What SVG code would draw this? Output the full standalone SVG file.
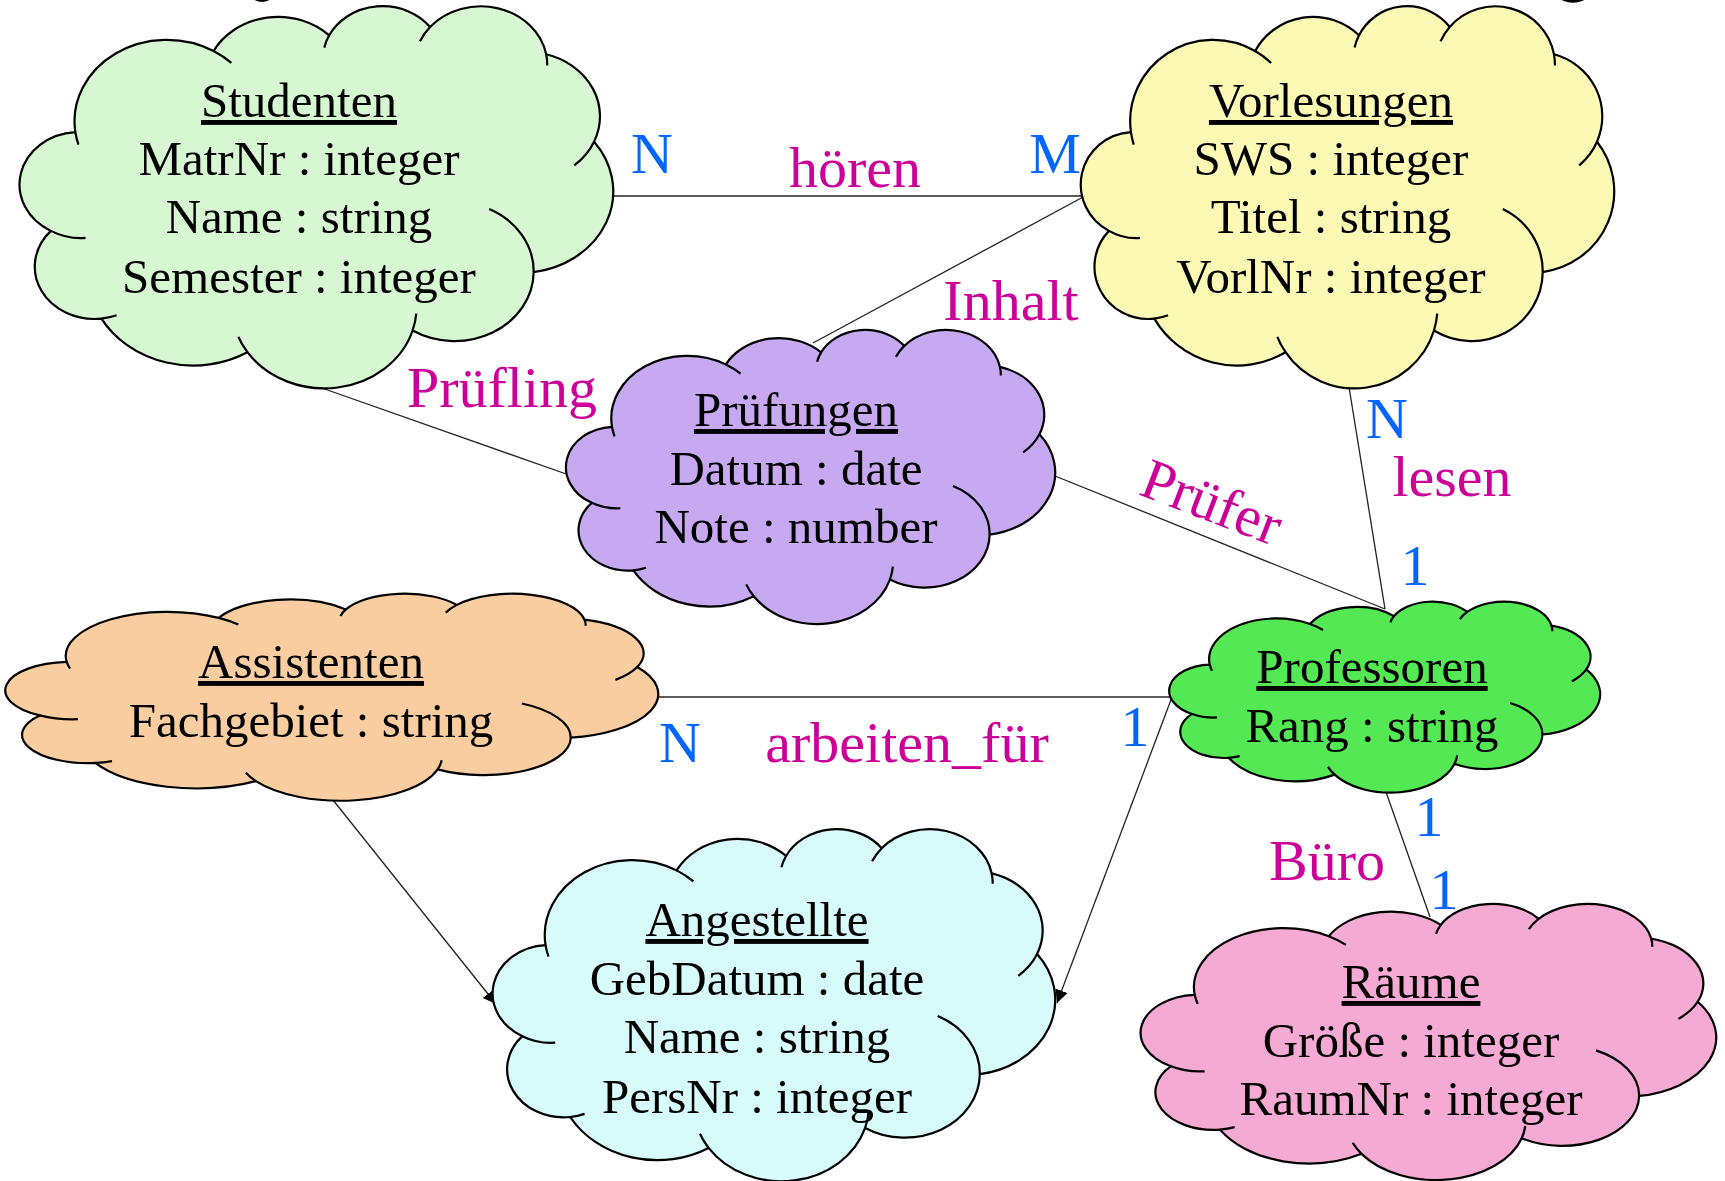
<svg xmlns="http://www.w3.org/2000/svg" xmlns:xlink="http://www.w3.org/1999/xlink" width="1725" height="1181" viewBox="0 0 1725 1181">
<style>
.t{font-family:"Liberation Serif","Times New Roman",serif;font-size:49px;fill:#000;text-anchor:middle}
.h{text-decoration:underline}
.lbl{font-family:"Liberation Serif","Times New Roman",serif;font-size:58px;text-anchor:middle}
.rel{fill:#CC0099}
.card{fill:#0066FF}
.conn{stroke:#222;stroke-width:1.3;fill:none}
</style>
<defs>
<g id="cloud">
<path stroke="#000" stroke-width="2.2" vector-effect="non-scaling-stroke" stroke-linejoin="round" d="M9.028,33.264 A15.632,21.273 0 0 1 32.417,12.039 A12.345,16.822 0 0 1 51.979,7.940 A10.104,13.762 0 0 1 69.056,5.738 A11.243,15.266 0 0 1 88.697,12.905 A12.345,16.836 0 0 1 96.799,35.785 A15.683,21.343 0 0 1 86.579,69.910 A13.391,18.211 0 0 1 66.095,85.211 A15.630,21.331 0 0 1 38.144,90.887 A17.870,24.405 0 0 1 13.433,82.102 A10.093,13.699 0 0 1 4.889,59.132 A10.058,13.762 0 0 1 9.028,33.264 Z"/>
<path fill="none" stroke="#000" stroke-width="2.2" vector-effect="non-scaling-stroke" d="M10.752,60.977 A10.058,13.762 0 0 1 4.889,59.132 M16.000,81.218 A10.093,13.699 0 0 1 13.433,82.102 M38.144,90.887 A15.630,21.331 0 0 1 36.597,86.859 M66.713,80.792 A15.630,21.331 0 0 1 66.095,85.211 M79.053,53.394 A13.391,18.211 0 0 1 86.579,69.910 M96.799,35.785 A12.345,16.836 0 0 1 93.449,41.979 M88.697,12.905 A11.243,15.266 0 0 1 88.875,15.831 M67.338,9.470 A11.243,15.266 0 0 1 69.056,5.738 M51.148,11.155 A10.104,13.762 0 0 1 51.979,7.940 M32.417,12.039 A15.632,21.273 0 0 1 35.428,15.164 M9.553,36.549 A15.632,21.273 0 0 1 9.028,33.264"/>
</g>
<marker id="arrow" markerUnits="userSpaceOnUse" markerWidth="14" markerHeight="14" refX="13" refY="6.5" orient="auto">
<path d="M0,0 L13,6.5 L0,13 Z" fill="#000"/>
</marker>
</defs>
<rect width="1725" height="1181" fill="#fff"/>
<g id="edge-fragments" fill="#000">
<ellipse cx="262" cy="-3" rx="9" ry="5"/>
<ellipse cx="1573" cy="-3" rx="13" ry="5.7"/>
</g>
<g id="connectors">
<line class="conn" x1="613" y1="196" x2="1085" y2="196"/>
<line class="conn" x1="1085" y1="196" x2="813" y2="343"/>
<line class="conn" x1="319" y1="387" x2="569" y2="475"/>
<line class="conn" x1="1055" y1="476" x2="1385" y2="609"/>
<line class="conn" x1="1349" y1="387" x2="1385" y2="609"/>
<line class="conn" x1="658" y1="697" x2="1172" y2="697"/>
<line class="conn" x1="333" y1="800" x2="496" y2="1004" marker-end="url(#arrow)"/>
<line class="conn" x1="1172" y1="697" x2="1057" y2="1003" marker-end="url(#arrow)"/>
<line class="conn" x1="1386" y1="792" x2="1430" y2="917"/>
</g>
<g id="node-studenten">
<use href="#cloud" xlink:href="#cloud" fill="#D6F7D2" transform="translate(22,5) scale(5.91,3.82)"/>
<text class="t h" x="299" y="117">Studenten</text>
<text class="t" x="299" y="175">MatrNr : integer</text>
<text class="t" x="299" y="233">Name : string</text>
<text class="t" x="299" y="293">Semester : integer</text>
</g>
<g id="node-vorlesungen">
<use href="#cloud" xlink:href="#cloud" fill="#FCF9B4" transform="translate(1083,5) scale(5.31,3.82)"/>
<text class="t h" x="1331" y="117">Vorlesungen</text>
<text class="t" x="1331" y="175">SWS : integer</text>
<text class="t" x="1331" y="233">Titel : string</text>
<text class="t" x="1331" y="293">VorlNr : integer</text>
</g>
<g id="node-pruefungen">
<use href="#cloud" xlink:href="#cloud" fill="#C7A9F2" transform="translate(568,329) scale(4.87,2.94)"/>
<text class="t h" x="796" y="426">Prüfungen</text>
<text class="t" x="796" y="485">Datum : date</text>
<text class="t" x="796" y="543">Note : number</text>
</g>
<g id="node-assistenten">
<use href="#cloud" xlink:href="#cloud" fill="#F9CDA0" transform="translate(8,593) scale(6.50,2.07)"/>
<text class="t h" x="311" y="678">Assistenten</text>
<text class="t" x="311" y="737">Fachgebiet : string</text>
</g>
<g id="node-professoren">
<use href="#cloud" xlink:href="#cloud" fill="#55E855" transform="translate(1171,601) scale(4.29,1.91)"/>
<text class="t h" x="1372" y="683">Professoren</text>
<text class="t" x="1372" y="742">Rang : string</text>
</g>
<g id="node-angestellte">
<use href="#cloud" xlink:href="#cloud" fill="#D7FAFA" transform="translate(495,828) scale(5.60,3.52)"/>
<text class="t h" x="757" y="936">Angestellte</text>
<text class="t" x="757" y="995">GebDatum : date</text>
<text class="t" x="757" y="1053">Name : string</text>
<text class="t" x="757" y="1113">PersNr : integer</text>
</g>
<g id="node-raeume">
<use href="#cloud" xlink:href="#cloud" fill="#F4AAD2" transform="translate(1143,903) scale(5.73,2.76)"/>
<text class="t h" x="1411" y="998">Räume</text>
<text class="t" x="1411" y="1057">Größe : integer</text>
<text class="t" x="1411" y="1115">RaumNr : integer</text>
</g>
<g id="labels">
<text class="lbl card" x="652" y="173">N</text>
<text class="lbl rel" x="855" y="187">hören</text>
<text class="lbl card" x="1055" y="173">M</text>
<text class="lbl rel" x="1011" y="320">Inhalt</text>
<text class="lbl rel" x="502" y="407">Prüfling</text>
<text class="lbl card" x="1387" y="438">N</text>
<text class="lbl rel" x="1452" y="496">lesen</text>
<text class="lbl rel" transform="translate(1205,520) rotate(21)" x="0" y="0">Prüfer</text>
<text class="lbl card" x="1415" y="585">1</text>
<text class="lbl card" x="680" y="762">N</text>
<text class="lbl rel" x="907" y="762">arbeiten_für</text>
<text class="lbl card" x="1135" y="746">1</text>
<text class="lbl card" x="1429" y="836">1</text>
<text class="lbl rel" x="1327" y="880">Büro</text>
<text class="lbl card" x="1444" y="909">1</text>
</g>
</svg>
